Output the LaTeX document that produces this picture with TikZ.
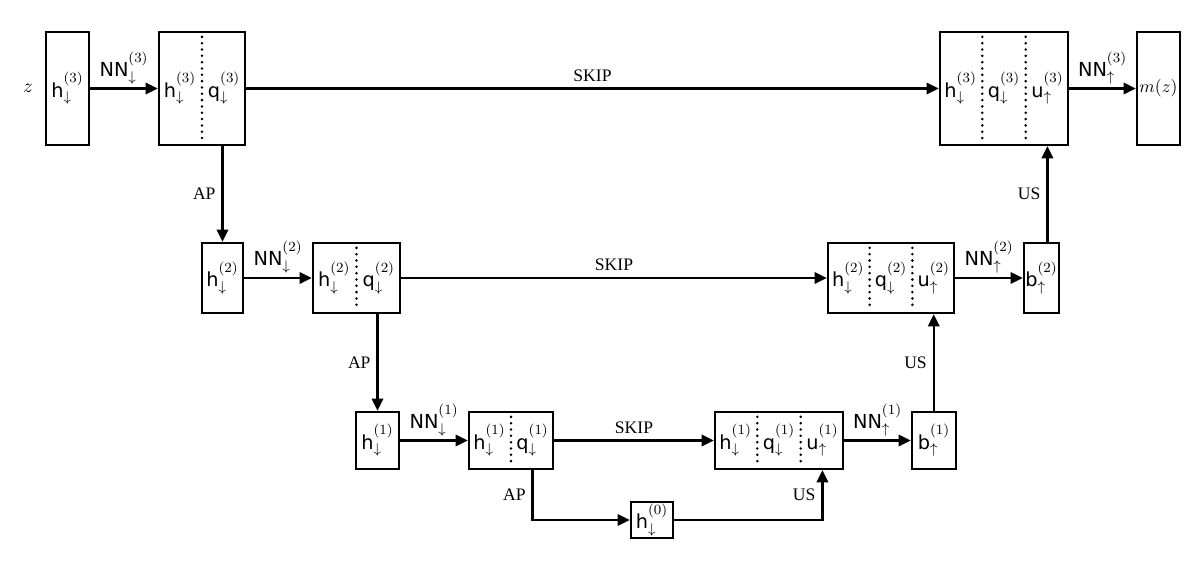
\documentclass[tikz,border=0pt]{standalone}
\usepackage{amsmath}
\usepackage{amssymb}
\usepackage{fontspec}
\setmainfont{Liberation Serif}
\setsansfont{DejaVu Sans}
\usetikzlibrary{arrows.meta,calc}

\tikzset{
  big/.style={font=\fontsize{11}{13}\selectfont},
  blk/.style={draw, line width=1.3pt, inner sep=0pt, big},
  arr/.style={-{Triangle[length=7pt,width=6.5pt]}, line width=1.3pt},
  sep/.style={line width=1.6pt, dash pattern={on 0pt off 3.6pt}, line cap=round},
  lbl/.style={inner sep=2pt, big},
}

\begin{document}
\begin{tikzpicture}[x=0.02cm,y=-0.02cm]
\useasboundingbox (0,0) rectangle (1200,563);

%Shape: Rectangle -- top row
\node [big] (zin) at (28,88) {$z$};
\node [blk, minimum width=0.86cm, minimum height=2.26cm] (hA) at (67.5,88.5) {$\mathsf{h}^{(3)}_{\downarrow}$};
\node [blk, minimum width=1.72cm, minimum height=2.26cm] (cA) at (202,88.5) {};
\node [blk, minimum width=2.56cm, minimum height=2.26cm] (sA) at (1004,88.5) {};
\node [blk, minimum width=0.86cm, minimum height=2.26cm, font=\normalsize] (mz) at (1158.5,88.5) {$m(z)$};

%Shape: Rectangle -- middle row
\node [blk, minimum width=0.82cm, minimum height=1.4cm] (hB) at (222.5,278) {$\mathsf{h}^{(2)}_{\downarrow}$};
\node [blk, minimum width=1.74cm, minimum height=1.4cm] (cB) at (356.5,278) {};
\node [blk, minimum width=2.52cm, minimum height=1.4cm] (sB) at (891,278) {};
\node [blk, minimum width=0.7cm, minimum height=1.4cm] (bB) at (1041.5,278) {$\mathsf{b}^{(2)}_{\uparrow}$};

%Shape: Rectangle -- bottom row
\node [blk, minimum width=0.86cm, minimum height=1.14cm] (hC) at (377.5,440.5) {$\mathsf{h}^{(1)}_{\downarrow}$};
\node [blk, minimum width=1.68cm, minimum height=1.14cm] (cC) at (511,440.5) {};
\node [blk, minimum width=2.56cm, minimum height=1.14cm] (sC) at (779,440.5) {};
\node [blk, minimum width=0.88cm, minimum height=1.14cm] (bC) at (934,440.5) {$\mathsf{b}^{(1)}_{\uparrow}$};
\node [blk, minimum width=0.84cm, minimum height=0.72cm] (hZ) at (652,520) {$\mathsf{h}^{(0)}_{\downarrow}$};

% Text Node -- split boxes
\node [big] (hA2) at ($(cA.west)!0.25!(cA.east)$) {$\mathsf{h}^{(3)}_{\downarrow}$};
\node [big] (qA) at ($(cA.west)!0.75!(cA.east)$) {$\mathsf{q}^{(3)}_{\downarrow}$};
\node [big] (hA3) at ($(sA.west)!1/6!(sA.east)$) {$\mathsf{h}^{(3)}_{\downarrow}$};
\node [big] (qA3) at ($(sA.west)!3/6!(sA.east)$) {$\mathsf{q}^{(3)}_{\downarrow}$};
\node [big] (uA) at ($(sA.west)!5/6!(sA.east)$) {$\mathsf{u}^{(3)}_{\uparrow}$};

\node [big] (hB2) at ($(cB.west)!0.25!(cB.east)$) {$\mathsf{h}^{(2)}_{\downarrow}$};
\node [big] (qB) at ($(cB.west)!0.75!(cB.east)$) {$\mathsf{q}^{(2)}_{\downarrow}$};
\node [big] (hB3) at ($(sB.west)!1/6!(sB.east)$) {$\mathsf{h}^{(2)}_{\downarrow}$};
\node [big] (qB3) at ($(sB.west)!3/6!(sB.east)$) {$\mathsf{q}^{(2)}_{\downarrow}$};
\node [big] (uB) at ($(sB.west)!5/6!(sB.east)$) {$\mathsf{u}^{(2)}_{\uparrow}$};

\node [big] (hC2) at ($(cC.west)!0.25!(cC.east)$) {$\mathsf{h}^{(1)}_{\downarrow}$};
\node [big] (qC) at ($(cC.west)!0.75!(cC.east)$) {$\mathsf{q}^{(1)}_{\downarrow}$};
\node [big] (hC3) at ($(sC.west)!1/6!(sC.east)$) {$\mathsf{h}^{(1)}_{\downarrow}$};
\node [big] (qC3) at ($(sC.west)!3/6!(sC.east)$) {$\mathsf{q}^{(1)}_{\downarrow}$};
\node [big] (uC) at ($(sC.west)!5/6!(sC.east)$) {$\mathsf{u}^{(1)}_{\uparrow}$};

%Straight Lines -- dotted separators
\foreach \b in {cA,cB,cC} {
  \draw [sep] ($(\b.north)+(0,6)$) -- ($(\b.south)+(0,-6)$);
}
\foreach \b in {sA,sB,sC} {
  \draw [sep] ($(\b.north west)!1/3!(\b.north east)+(0,6)$) -- ($(\b.south west)!1/3!(\b.south east)+(0,-6)$);
  \draw [sep] ($(\b.north west)!2/3!(\b.north east)+(0,6)$) -- ($(\b.south west)!2/3!(\b.south east)+(0,-6)$);
}

%Straight Lines -- top row
\draw [arr] (hA) -- node [above, lbl] (nnA) {$\mathsf{NN}^{(3)}_{\downarrow}$} (cA);
\draw [arr] (cA) -- node [above] (skA) {SKIP} (sA);
\draw [arr] (sA) -- node [above, lbl] (nnAu) {$\mathsf{NN}^{(3)}_{\uparrow}$} (mz);
\draw [arr] (cA.south -| hB) -- node [left] (apA) {AP} (hB);
\draw [arr] (bB.north -| uA) -- node [left] (usA) {US} (uA |- sA.south);

%Straight Lines -- middle row
\draw [arr] (hB) -- node [above, lbl] (nnB) {$\mathsf{NN}^{(2)}_{\downarrow}$} (cB);
\draw [arr] (cB) -- node [above] (skB) {SKIP} (sB);
\draw [arr] (sB) -- node [above, lbl] (nnBu) {$\mathsf{NN}^{(2)}_{\uparrow}$} (bB);
\draw [arr] (cB.south -| hC) -- node [left] (apB) {AP} (hC);
\draw [arr] (bC.north -| uB) -- node [left] (usB) {US} (uB |- sB.south);

%Straight Lines -- bottom row
\draw [arr] (hC) -- node [above, lbl] (nnC) {$\mathsf{NN}^{(1)}_{\downarrow}$} (cC);
\draw [arr] (cC) -- node [above] (skC) {SKIP} (sC);
\draw [arr] (sC) -- node [above, lbl] (nnCu) {$\mathsf{NN}^{(1)}_{\uparrow}$} (bC);
\draw [arr] (cC.south -| qC) |- node [pos=0.25, left] (apC) {AP} (hZ);
\draw [arr] (hZ) -| node [pos=0.75, left] (usC) {US} (uC |- sC.south);

\end{tikzpicture}
\end{document}
